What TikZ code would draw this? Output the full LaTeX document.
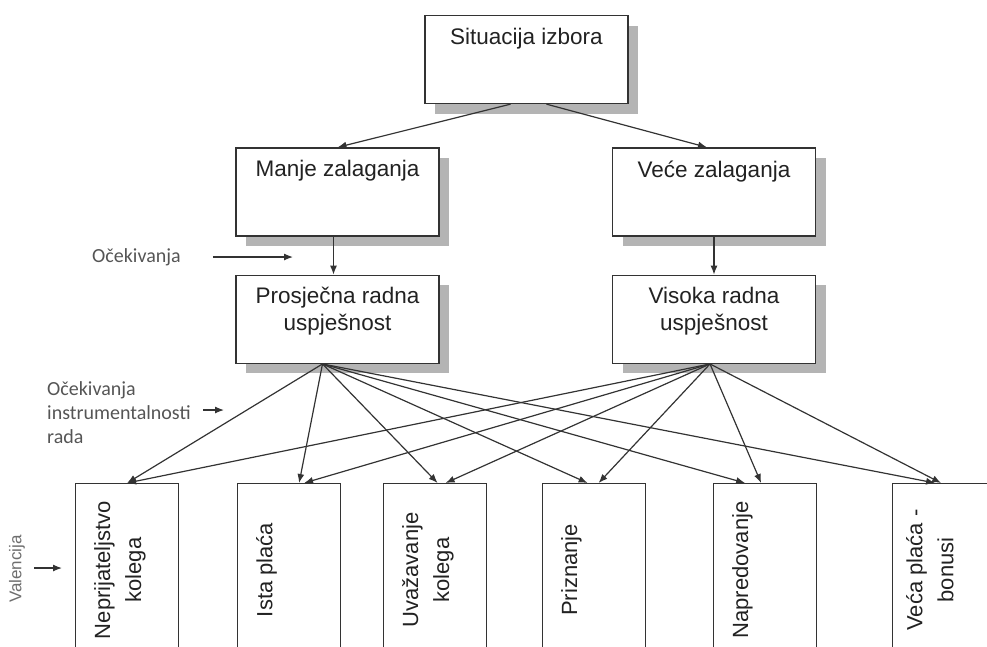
\documentclass[tikz,border=0pt]{standalone}
\usepackage{fontspec}
\setmainfont{Liberation Sans}
\newfontfamily\notefont{Carlito}
\usetikzlibrary{arrows.meta,calc,positioning,shadows}
\definecolor{LineDark}{HTML}{333333}
\definecolor{TextDark}{HTML}{222222}
\definecolor{NoteGrey}{HTML}{555555}
\definecolor{ShadowGrey}{HTML}{B4B4B4}

\begin{document}
\begin{tikzpicture}[x=1pt, y=-1pt,
        box/.style={draw=LineDark, line width=1.3pt, fill=white,
            minimum width=203pt, minimum height=88pt,
            drop shadow={shadow xshift=10pt, shadow yshift=-10pt, fill=ShadowGrey, opacity=1}},
        outbox/.style={draw=LineDark, line width=1.2pt, fill=white, anchor=north west,
            minimum width=103pt, minimum height=190pt},
        boxtext/.style={text=TextDark, inner sep=0pt, align=center,
            font=\fontsize{22.5}{27}\selectfont},
        outtext/.style={boxtext, rotate=90, anchor=north,
            font=\fontsize{22}{31}\selectfont},
        note/.style={text=NoteGrey, inner sep=0pt, align=left,
            font=\notefont\fontsize{20}{24}\selectfont},
        link/.style={draw=LineDark, line width=1.2pt, -{Latex[length=9pt,width=7pt]}}]
        \useasboundingbox (0,0) rectangle (987,646);
        \clip (0,0) rectangle (987,646);

        % upper part
        \node[box] (sit) at (526.5,59.5) {};
        \node[box] (manje) at (337.5,192) {};
        \node[box] (vece) at (714,192) {};
        \node[box, below=38pt of manje] (pros) {};
        \node[box, below=38pt of vece] (vis) {};

        \node[boxtext, below=13pt of sit.north] (sit-t) {Situacija izbora};
        \node[boxtext, below=13pt of manje.north] (manje-t) {Manje zalaganja};
        \node[boxtext, below=13pt of vece.north] (vece-t) {Veće zalaganja};
        \node[boxtext, below=12pt of pros.north] (pros-t) {Prosječna radna\\uspješnost};
        \node[boxtext, below=12pt of vis.north] (vis-t) {Visoka radna\\uspješnost};

        \draw[link] ($(sit.south)+(-16,0)$) -- (manje.north);
        \draw[link] ($(sit.south)+(20,0)$) -- ($(vece.north)+(-7,0)$);
        \draw[link] ($(manje.south)+(-4,0)$) -- ($(pros.north)+(-4,0)$);
        \draw[link] (vece.south) -- (vis.north);

        % side notes
        \node[note, anchor=west] (ocek) at (92,257) {Očekivanja};
        \coordinate (ocek-end) at (293,257);
        \draw[link] ($(ocek.east)+(32,0)$) -- (ocek-end);

        \node[note, anchor=north west] (instr) at (47,381) {Očekivanja\\instrumentalnosti\\rada};
        \coordinate (instr-end) at (224,410);
        \draw[link] ($(instr-end)+(-21,0)$) -- (instr-end);

        \node[note, rotate=90, text=NoteGrey!85, font=\fontsize{17}{19}\selectfont] (val) at (17,569) {Valencija};
        \coordinate (val-end) at (62,568);
        \draw[link] ($(val-end)+(-28,0)$) -- (val-end);

        % outcomes
        \node[outbox] (o1) at (75,483) {};
        \node[outbox] (o2) at (237,483) {};
        \node[outbox] (o3) at (383,483) {};
        \node[outbox] (o4) at (542,483) {};
        \node[outbox] (o5) at (713,483) {};
        \node[outbox] (o6) at (892,483) {};

        \node[outtext] (o1-t) at (94,570) {Neprijateljstvo\\kolega};
        \node[outtext] (o2-t) at (256,570) {Ista plaća};
        \node[outtext] (o3-t) at (402,570) {Uvažavanje\\kolega};
        \node[outtext] (o4-t) at (561,570) {Priznanje};
        \node[outtext] (o5-t) at (732,570) {Napredovanje};
        \node[outtext] (o6-t) at (906,570) {Veća plaća -\\bonusi};

        \coordinate (ls) at ($(pros.south)+(-15,0)$);
        \coordinate (rs) at ($(vis.south)+(-4,0)$);

        \draw[link] (ls) -- (o1.north);
        \draw[link] (ls) -- ($(o2.north)+(10,0)$);
        \draw[link] (ls) -- ($(o3.north)+(2.5,0)$);
        \draw[link] (ls) -- ($(o4.north)+(-6.5,0)$);
        \draw[link] (ls) -- ($(o5.north)+(-20,0)$);
        \draw[link] (ls) -- ($(o6.north)+(-9,0)$);

        \draw[link] (rs) -- (o1.north);
        \draw[link] (rs) -- ($(o2.north)+(15,0)$);
        \draw[link] (rs) -- ($(o3.north)+(10.5,0)$);
        \draw[link] (rs) -- ($(o4.north)+(4.5,0)$);
        \draw[link] (rs) -- ($(o5.north)+(-4,0)$);
        \draw[link] (rs) -- ($(o6.north)+(-3,0)$);
    \end{tikzpicture}
\end{document}
